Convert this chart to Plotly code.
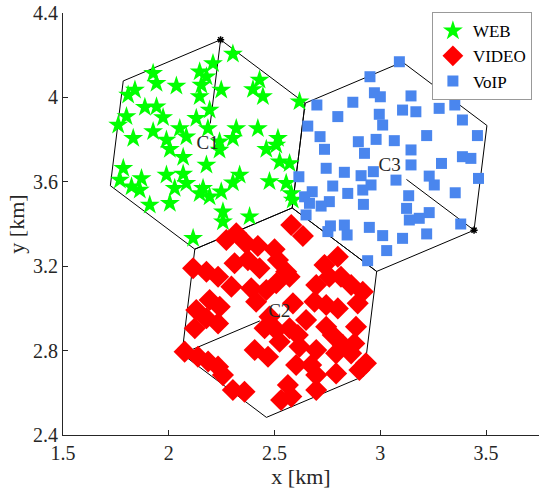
import numpy as np
import plotly.graph_objects as go

# ---- data ----
web_x = [2.303, 2.209, 2.146, 1.926, 2.178, 1.942, 2.036, 2.154, 2.429, 2.398, 2.445, 2.248, 1.840, 1.808,
         2.146, 2.618, 1.887, 1.942, 2.193, 1.800, 1.973, 2.130, 1.761, 2.185, 2.052, 1.926, 2.083, 2.319,
         2.421, 1.832, 1.989, 2.303, 2.516, 2.240, 2.005, 2.461, 2.508, 2.068, 2.240, 2.524, 2.571, 2.178,
         1.785, 1.989, 2.068, 2.335, 1.769, 1.871, 2.083, 2.303, 2.476, 2.555, 1.824, 1.863, 2.028, 2.162,
         2.248, 2.146, 2.193, 2.579, 2.586, 1.910, 2.005, 2.256, 2.382, 2.256, 2.115]
web_y = [4.206, 4.161, 4.122, 4.114, 4.098, 4.067, 4.054, 4.059, 4.082, 4.038, 4.004, 4.035, 4.035, 4.011,
         4.004, 3.980, 3.953, 3.956, 3.940, 3.909, 3.905, 3.901, 3.869, 3.853, 3.853, 3.838, 3.814, 3.853,
         3.853, 3.806, 3.798, 3.806, 3.806, 3.790, 3.754, 3.754, 3.774, 3.716, 3.751, 3.695, 3.687, 3.680,
         3.664, 3.632, 3.637, 3.632, 3.608, 3.616, 3.593, 3.596, 3.601, 3.593, 3.577, 3.561, 3.569, 3.569,
         3.553, 3.545, 3.529, 3.545, 3.514, 3.490, 3.498, 3.458, 3.435, 3.411, 3.332]

video_x = [2.579, 2.634, 2.319, 2.272, 2.366, 2.421, 2.500, 2.115, 2.178, 2.233, 2.311, 2.374, 2.429, 2.516,
           2.555, 2.296, 2.390, 2.461, 2.508, 2.571, 2.736, 2.799, 2.759, 2.814, 2.697, 2.862, 2.917, 2.193,
           2.130, 2.241, 2.413, 2.587, 2.689, 2.744, 2.799, 2.893, 2.178, 2.233, 2.123, 2.453, 2.508, 2.571,
           2.649, 2.744, 2.885, 2.775, 2.822, 2.877, 2.075, 2.138, 2.406, 2.469, 2.524, 2.618, 2.697, 2.791,
           2.862, 2.932, 2.186, 2.233, 2.256, 2.602, 2.673, 2.697, 2.791, 2.901, 2.303, 2.358, 2.563, 2.531,
           2.579, 2.697, 2.476, 2.610]
video_y = [3.395, 3.343, 3.356, 3.324, 3.308, 3.296, 3.280, 3.190, 3.174, 3.150, 3.214, 3.229, 3.190, 3.229,
           3.174, 3.103, 3.095, 3.087, 3.119, 3.150, 3.206, 3.245, 3.150, 3.150, 3.111, 3.111, 3.079, 3.040,
           2.992, 3.008, 3.032, 3.024, 3.032, 3.016, 3.000, 3.024, 2.953, 2.929, 2.906, 2.906, 2.898, 2.906,
           2.945, 2.913, 2.913, 2.874, 2.827, 2.834, 2.795, 2.771, 2.803, 2.771, 2.842, 2.819, 2.803, 2.787,
           2.787, 2.740, 2.748, 2.724, 2.684, 2.732, 2.732, 2.684, 2.692, 2.708, 2.613, 2.605, 2.637, 2.566,
           2.582, 2.613, 2.961, 2.874]

voip_x = [3.090, 2.951, 2.972, 3.000, 3.145, 2.700, 2.870, 3.105, 3.168, 3.278, 3.352, 2.799, 2.995, 3.011,
          3.388, 2.657, 2.715, 2.896, 2.980, 3.066, 3.219, 3.459, 2.736, 2.925, 3.145, 3.388, 3.428, 3.289,
          3.145, 2.744, 2.830, 2.909, 2.967, 2.615, 3.074, 3.231, 3.255, 3.464, 2.775, 2.956, 2.917, 2.678,
          2.846, 3.354, 2.642, 2.665, 2.759, 2.720, 2.920, 3.134, 3.124, 3.231, 3.184, 3.137, 2.649, 2.764,
          2.830, 2.752, 2.843, 2.948, 3.011, 3.105, 3.219, 3.380, 3.030, 2.940]
voip_y = [4.169, 4.098, 4.022, 4.003, 4.007, 3.964, 3.977, 3.940, 3.932, 3.948, 3.964, 3.909, 3.920, 3.869,
          3.893, 3.864, 3.814, 3.790, 3.801, 3.795, 3.819, 3.819, 3.754, 3.735, 3.751, 3.719, 3.711, 3.687,
          3.680, 3.664, 3.645, 3.629, 3.648, 3.624, 3.608, 3.627, 3.585, 3.616, 3.580, 3.585, 3.561, 3.553,
          3.545, 3.548, 3.529, 3.498, 3.506, 3.485, 3.493, 3.534, 3.474, 3.454, 3.427, 3.419, 3.443, 3.391,
          3.395, 3.364, 3.348, 3.384, 3.345, 3.332, 3.353, 3.400, 3.274, 3.226]

cell_names = ["C1", "C2", "C3"]
cell_x = [2.184, 2.5224, 3.0436]
cell_y = [3.777, 2.9798, 3.6715]
cell_sector_deg = [83, 203, -37]   # direction of the marked vertex
cell_radius = 0.5
hex_rotation_deg = 83

SERIF = "Liberation Serif"
INK = "#262626"
fig = go.Figure()

# hexagon cells
for name, cx, cy, sd in zip(cell_names, cell_x, cell_y, cell_sector_deg):
    ang = np.deg2rad(hex_rotation_deg + 60 * np.arange(7))
    hx = cx + cell_radius * np.cos(ang)
    hy = cy + cell_radius * np.sin(ang)
    fig.add_trace(go.Scatter(x=hx, y=hy, mode="lines", line=dict(color="black", width=1),
                             showlegend=False, hoverinfo="skip"))
    a = np.deg2rad(sd)
    vx, vy = cx + cell_radius * np.cos(a), cy + cell_radius * np.sin(a)
    sx, sy = cx + 0.1 * np.cos(a), cy + 0.1 * np.sin(a)
    fig.add_trace(go.Scatter(x=[sx, vx], y=[sy, vy], mode="lines", line=dict(color="black", width=1),
                             showlegend=False, hoverinfo="skip"))
    fig.add_trace(go.Scatter(x=[vx], y=[vy], mode="markers",
                             marker=dict(symbol="asterisk-open", size=6, color="black",
                                         line=dict(color="black", width=1.5)),
                             showlegend=False, hoverinfo="skip"))

fig.add_trace(go.Scatter(x=web_x, y=web_y, mode="markers", name="WEB",
                         marker=dict(symbol="star", size=15, color="#00FF00", line=dict(width=0))))
fig.add_trace(go.Scatter(x=video_x, y=video_y, mode="markers", name="VIDEO",
                         marker=dict(symbol="diamond", size=17, color="#FF0000", line=dict(width=0))))
fig.add_trace(go.Scatter(x=voip_x, y=voip_y, mode="markers", name="VoIP",
                         marker=dict(symbol="square", size=11, color="#4A86EE", line=dict(width=0))))

# cell labels on top
fig.add_trace(go.Scatter(x=cell_x, y=cell_y, mode="text", text=cell_names,
                         textfont=dict(family=SERIF, size=19, color=INK),
                         showlegend=False, hoverinfo="skip"))

axis_common = dict(showgrid=False, zeroline=False, showline=True, linecolor=INK, linewidth=1,
                   ticks="inside", ticklen=5, tickcolor=INK,
                   tickfont=dict(family=SERIF, size=20, color=INK))
fig.update_xaxes(range=[1.5, 3.75], tickvals=[1.5, 2, 2.5, 3, 3.5], ticktext=["1.5", "2", "2.5", "3", "3.5"],
                 title=dict(text="x [km]", font=dict(family=SERIF, size=22, color=INK), standoff=0),
                 **axis_common)
fig.update_yaxes(range=[2.4, 4.4], tickvals=[2.4, 2.8, 3.2, 3.6, 4.0, 4.4],
                 ticktext=["2.4", "2.8", "3.2", "3.6", "4", "4.4"],
                 title=dict(text="y [km]", font=dict(family=SERIF, size=22, color=INK), standoff=2),
                 **axis_common)

fig.update_layout(width=539, height=493, margin=dict(l=63, r=0, t=13, b=58),
                  paper_bgcolor="white", plot_bgcolor="white",
                  legend=dict(x=0.775, y=1.002, xanchor="left", yanchor="top",
                              bordercolor="#999999", borderwidth=1, bgcolor="white",
                              font=dict(family=SERIF, size=17, color="black"),
                              tracegroupgap=0, itemwidth=30))

fig.write_html("out.html")
